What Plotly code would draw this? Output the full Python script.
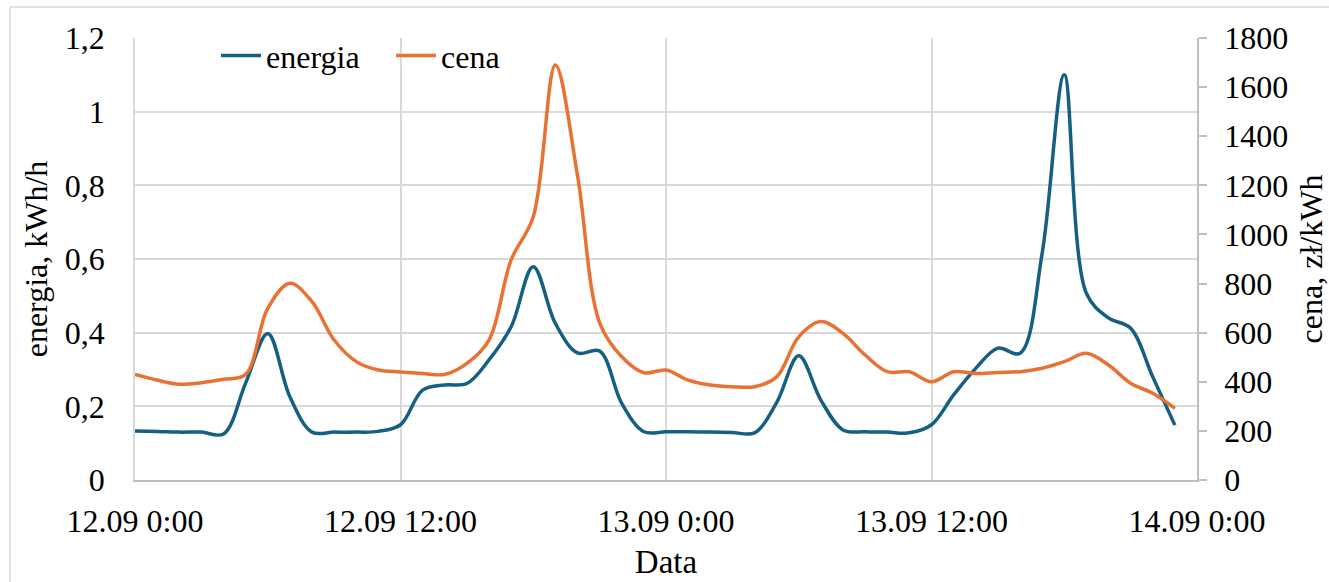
import pandas as pd
import plotly.graph_objects as go

# ---- data ----
czas = pd.date_range("2023-09-12 00:00", periods=48, freq="h")

energia = [0.133, 0.132, 0.130, 0.130, 0.125, 0.263, 0.398, 0.226, 0.130, 0.130, 0.130, 0.132,
           0.150, 0.244, 0.258, 0.262, 0.326, 0.416, 0.579, 0.425, 0.345, 0.350, 0.208, 0.131,
           0.131, 0.131, 0.130, 0.129, 0.128, 0.210, 0.337, 0.217, 0.136, 0.131, 0.130, 0.128,
           0.150, 0.231, 0.303, 0.358, 0.344, 0.615, 1.100, 0.507, 0.440, 0.412, 0.280, 0.149]

cena = [430, 407, 390, 396, 410, 430, 699, 801, 726, 570, 482, 448,
        440, 434, 430, 475, 570, 896, 1072, 1690, 1240, 640, 502, 437,
        448, 407, 387, 380, 380, 420, 583, 645, 597, 509, 441, 441,
        400, 441, 434, 438, 441, 455, 482, 516, 468, 394, 353, 292]

x_tick_vals = ["2023-09-12 00:00", "2023-09-12 12:00", "2023-09-13 00:00",
               "2023-09-13 12:00", "2023-09-14 00:00"]
x_tick_text = ["12.09 0:00", "12.09 12:00", "13.09 0:00", "13.09 12:00", "14.09 0:00"]

y1_tick_vals = [0, 0.2, 0.4, 0.6, 0.8, 1.0, 1.2]
y1_tick_text = ["0", "0,2", "0,4", "0,6", "0,8", "1", "1,2"]
y2_tick_vals = [0, 200, 400, 600, 800, 1000, 1200, 1400, 1600, 1800]
y2_tick_text = [str(v) for v in y2_tick_vals]

BLUE = "#156082"
ORANGE = "#E97132"
GRID = "#D9D9D9"
AXIS = "#BFBFBF"
FONT = "Liberation Serif"
FS = 32

fig = go.Figure()
fig.add_trace(go.Scatter(x=czas, y=energia, name="energia", mode="lines",
                         line=dict(color=BLUE, width=3.5, shape="spline", smoothing=1.0),
                         yaxis="y", legend="legend"))
fig.add_trace(go.Scatter(x=czas, y=cena, name="cena", mode="lines",
                         line=dict(color=ORANGE, width=3.5, shape="spline", smoothing=1.0),
                         yaxis="y2", legend="legend2"))

leg_common = dict(orientation="h", xanchor="left", yanchor="top",
                  font=dict(family=FONT, size=FS, color="#000000"),
                  bgcolor="rgba(0,0,0,0)", itemwidth=40)

fig.update_layout(
    template="none",
    width=1329, height=582,
    margin=dict(l=135, r=132, t=38, b=102, autoexpand=False),
    paper_bgcolor="white", plot_bgcolor="white",
    font_family=FONT, font_size=FS, font_color="#000000",
    showlegend=True,
    legend=dict(x=(216 - 135) / 1062, y=1.022, **leg_common),
    legend2=dict(x=(391 - 135) / 1062, y=1.022, **leg_common),
)
fig.update_xaxes(
    type="date", automargin=False,
    range=["2023-09-12 00:00", "2023-09-14 00:00"],
    tickvals=x_tick_vals, ticktext=x_tick_text,
    showgrid=True, gridcolor=GRID, gridwidth=1.5,
    showline=True, linecolor=AXIS, linewidth=1.5,
    ticks="", ticklabelstandoff=12,
    tickfont_family=FONT, tickfont_size=FS, tickfont_color="#000000",
    title_text="Data", title_font_family=FONT, title_font_size=33, title_standoff=12,
    zeroline=False,
)
fig.update_layout(
    yaxis=dict(
        range=[0, 1.2], automargin=False,
        tickvals=y1_tick_vals, ticktext=y1_tick_text,
        showgrid=True, gridcolor=GRID, gridwidth=1.5,
        showline=True, linecolor=GRID, linewidth=1.5,
        ticks="", ticklabelstandoff=22,
        tickfont=dict(family=FONT, size=FS, color="#000000"),
        title=dict(text="energia, kWh/h", font=dict(family=FONT, size=FS, color="#000000"), standoff=8),
        zeroline=False,
    ),
    yaxis2=dict(
        range=[0, 1800], overlaying="y", side="right", automargin=False,
        tickvals=y2_tick_vals, ticktext=y2_tick_text,
        showgrid=False,
        showline=True, linecolor=AXIS, linewidth=1.5,
        ticks="outside", ticklen=8, tickwidth=1.5, tickcolor=AXIS,
        ticklabelstandoff=11,
        tickfont=dict(family=FONT, size=FS, color="#000000"),
        title=dict(text="cena, zł/kWh", font=dict(family=FONT, size=FS, color="#000000"), standoff=20),
        zeroline=False,
    ),
)

# chart-area border (cropped at right and bottom in the reference)
fig.add_shape(type="rect", xref="paper", yref="paper",
              x0=(10 - 135) / 1062, x1=(1360 - 135) / 1062,
              y0=(480 - 620) / 442, y1=(480 - 7) / 442,
              line=dict(color=GRID, width=1.5), fillcolor="rgba(0,0,0,0)", layer="below")

fig.write_html("out.html")
